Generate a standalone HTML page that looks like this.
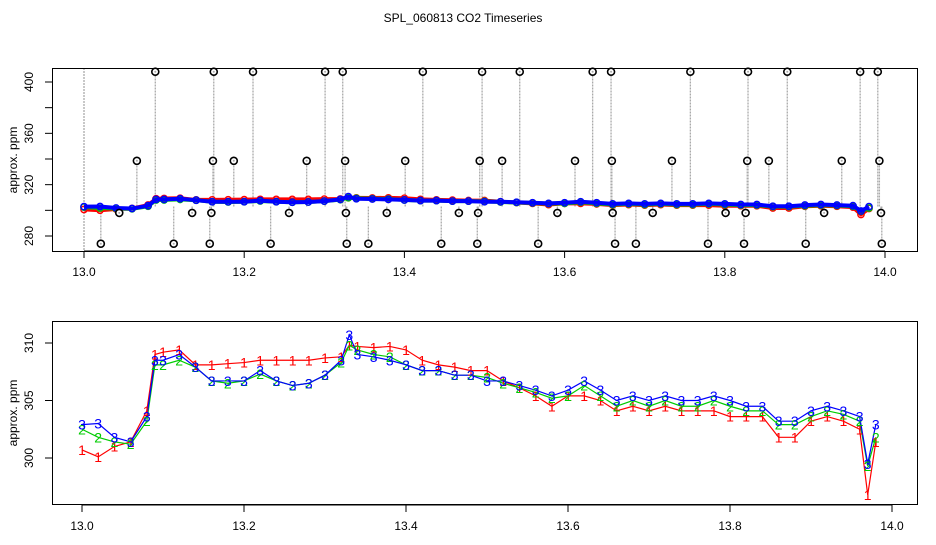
<!DOCTYPE html>
<html><head><meta charset="utf-8"><style>
body{margin:0;background:#fff}
text{font-family:"Liberation Sans",sans-serif}
</style></head><body>
<svg id="c" width="936" height="540" xmlns="http://www.w3.org/2000/svg">
<rect width="936" height="540" fill="#fff"/>
<text x="463" y="22" font-size="12" text-anchor="middle">SPL_060813  CO2 Timeseries</text>
<g id="top"></g>
<g id="bot"></g>
</svg>
<script>
const xs=[13.00,13.02,13.04,13.06,13.08,13.09,13.10,13.12,13.14,13.16,13.18,13.20,13.22,13.24,13.26,13.28,13.30,13.32,13.33,13.34,13.36,13.38,13.40,13.42,13.44,13.46,13.48,13.50,13.52,13.54,13.56,13.58,13.60,13.62,13.64,13.66,13.68,13.70,13.72,13.74,13.76,13.78,13.80,13.82,13.84,13.86,13.88,13.90,13.92,13.94,13.96,13.97,13.98];
const s3=[302.9,303.0,301.8,301.4,303.6,308.5,308.5,309.0,307.9,306.7,306.7,306.7,307.6,306.7,306.3,306.5,307.2,308.5,310.7,309.0,308.8,308.5,308.1,307.6,307.6,307.2,307.2,306.7,306.7,306.3,305.9,305.4,305.9,306.7,305.9,305.0,305.4,305.0,305.4,305.0,305.0,305.4,305.0,304.5,304.5,303.2,303.2,304.1,304.5,304.1,303.6,299.5,302.9];
const s2=[302.5,301.8,301.4,301.2,303.2,308.1,308.1,308.5,307.9,306.7,306.5,306.7,307.3,306.7,306.3,306.5,307.2,308.3,309.8,309.4,309.0,308.8,308.1,307.6,307.6,307.2,307.2,307.0,306.5,306.1,305.7,305.2,305.4,306.3,305.4,304.5,305.0,304.5,305.0,304.5,304.5,305.0,304.5,304.1,304.1,302.9,302.9,303.6,304.1,303.8,303.2,299.3,301.8];
const s1=[300.7,300.1,301.0,301.4,304.1,309.0,309.2,309.4,308.1,308.1,308.2,308.3,308.5,308.5,308.5,308.5,308.7,308.8,309.8,309.7,309.6,309.7,309.4,308.5,308.1,307.9,307.6,307.6,306.7,306.1,305.4,304.5,305.4,305.4,305.0,304.1,304.5,304.1,304.5,304.1,304.1,304.1,303.6,303.6,303.6,301.8,301.8,303.2,303.6,303.2,302.5,296.8,301.4];
const outX=[13.089,13.162,13.211,13.301,13.323,13.423,13.497,13.544,13.635,13.658,13.757,13.829,13.878,13.969,13.991,
13.066,13.161,13.187,13.278,13.326,13.401,13.494,13.522,13.613,13.659,13.734,13.828,13.855,13.946,13.993,
13.044,13.135,13.159,13.256,13.327,13.378,13.468,13.492,13.591,13.660,13.710,13.801,13.826,13.924,13.995,
13.021,13.112,13.157,13.233,13.328,13.355,13.446,13.491,13.567,13.663,13.689,13.779,13.824,13.901,13.996];
const outY=[408,408,408,408,408,408,408,408,408,408,408,408,408,408,408,
338.6,338.6,338.6,338.6,338.6,338.6,338.6,338.6,338.6,338.6,338.6,338.6,338.6,338.6,338.6,
298,298,298,298,298,298,298,298,298,298,298,298,298,298,298,
274,274,274,274,274,274,274,274,274,274,274,274,274,274,274];
const topXTicks=[13.0,13.2,13.4,13.6,13.8,14.0];
const topYTicks=[280,300,320,340,360,380,400];
const topYLabels=[280,320,360,400];
const botXTicks=[13.0,13.2,13.4,13.6,13.8,14.0];
const botYTicks=[300,305,310];

const NS="http://www.w3.org/2000/svg";
function mk(tag,attrs,parent){const e=document.createElementNS(NS,tag);for(const k in attrs)e.setAttribute(k,attrs[k]);parent.appendChild(e);return e;}
const cols=["#ff0000","#00cc00","#0000ff"];
const series=[s1,s2,s3];

// TOP PANEL
const T=document.getElementById('top');
const tx=v=>84+(v-13)*801, ty=v=>82-(v-400)*1.2833;
const base=303;
for(let i=0;i<outX.length;i++){
  const l=mk('line',{x1:tx(outX[i]),x2:tx(outX[i]),y1:ty(base),y2:ty(outY[i]),stroke:'#aaa','stroke-width':1.3,'stroke-dasharray':'2,1'},T);
  
  
}
{const l=mk('line',{x1:tx(13),x2:tx(13),y1:68,y2:251,stroke:'#aaa','stroke-width':1.3,'stroke-dasharray':'2,1'},T);

}
series.forEach((s,k)=>{
  const pts=s.map((v,i)=>tx(xs[i])+','+ty(v)).join(' ');
  const pl=mk('polyline',{points:pts,fill:'none',stroke:cols[k],'stroke-width':4,'stroke-linejoin':'round'},T);
  
  
  s.forEach((v,i)=>{
    const c=mk('circle',{cx:tx(xs[i]),cy:ty(v),r:3.2,fill:'none',stroke:cols[k],'stroke-width':1.4},T);
    
    
  });
});
for(let i=0;i<outX.length;i++){
  const c=mk('circle',{cx:tx(outX[i]),cy:ty(outY[i]),r:3.5,fill:'#fff',stroke:'#000','stroke-width':1.6},T);
  
  
  const d=mk('circle',{cx:tx(outX[i]),cy:ty(outY[i]),r:1,fill:'#aaa'},T);
  
  
}
{const r=mk('rect',{x:52.5,y:68.5,width:865,height:183,fill:'none',stroke:'#000'},T);

}
topXTicks.forEach(v=>{
  const l=mk('line',{x1:tx(v),x2:tx(v),y1:251,y2:258,stroke:'#000'},T);
  
  
  const t=mk('text',{x:tx(v),y:276,'font-size':12,'text-anchor':'middle'},T);
  t.textContent=v.toFixed(1);
  
  
});
{const l=mk('line',{x1:tx(13),x2:tx(14),y1:251,y2:251,stroke:'#000'},T);

}
topYTicks.forEach(v=>{
  const l=mk('line',{x1:45,x2:52,y1:ty(v),y2:ty(v),stroke:'#000'},T);
  
  
});
topYLabels.forEach(v=>{
  const t=mk('text',{x:0,y:0,'font-size':12,'text-anchor':'middle',transform:`translate(33,${ty(v)}) rotate(-90)`},T);
  t.textContent=v;
  
  
});
{const t=mk('text',{x:0,y:0,'font-size':12,'text-anchor':'middle',transform:'translate(17,160) rotate(-90)'},T);
t.textContent='approx. ppm';

}

// BOTTOM PANEL
const B=document.getElementById('bot');
const bx=v=>82+(v-13)*810, by=v=>458-(v-300)*11.5;
series.forEach((s,k)=>{
  const pts=s.map((v,i)=>bx(xs[i])+','+by(v)).join(' ');
  const pl=mk('polyline',{points:pts,fill:'none',stroke:cols[k],'stroke-width':1.2},B);
  
  
});
series.forEach((s,k)=>{
  s.forEach((v,i)=>{
    const t=mk('text',{x:bx(xs[i]),y:by(v)+5,'font-size':14,'text-anchor':'middle',fill:cols[k]},B);
    t.textContent=String(k+1);
    
    
  });
});
{const r=mk('rect',{x:52.5,y:321.5,width:865,height:183,fill:'none',stroke:'#000'},B);

}
botXTicks.forEach(v=>{
  const l=mk('line',{x1:bx(v),x2:bx(v),y1:505,y2:512,stroke:'#000'},B);
  
  
  const t=mk('text',{x:bx(v),y:530,'font-size':12,'text-anchor':'middle'},B);
  t.textContent=v.toFixed(1);
  
  
});
{const l=mk('line',{x1:bx(13),x2:bx(14),y1:505,y2:505,stroke:'#000'},B);

}
botYTicks.forEach(v=>{
  const l=mk('line',{x1:45,x2:52,y1:by(v),y2:by(v),stroke:'#000'},B);
  
  
  const t=mk('text',{x:0,y:0,'font-size':12,'text-anchor':'middle',transform:`translate(33,${by(v)}) rotate(-90)`},B);
  t.textContent=v;
  
  
});
{const t=mk('text',{x:0,y:0,'font-size':12,'text-anchor':'middle',transform:'translate(17,413) rotate(-90)'},B);
t.textContent='approx. ppm';

}
</script>
</body></html>
